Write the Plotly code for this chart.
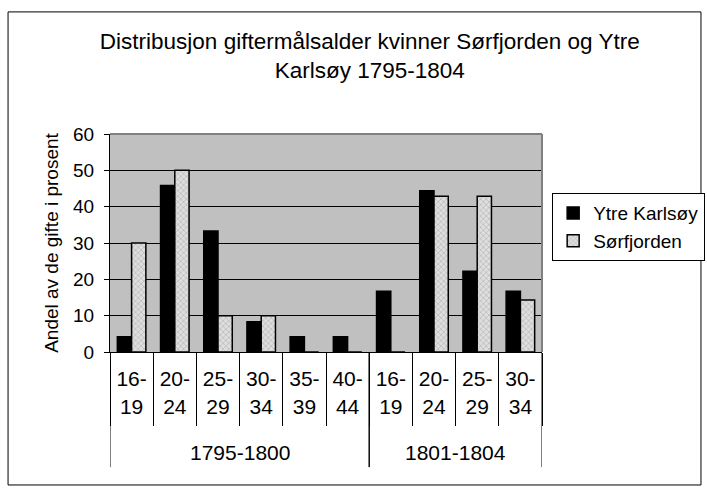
import plotly.graph_objects as go

# periods and age groups (two-level x axis)
periods = ["1795-1800"] * 6 + ["1801-1804"] * 4
ages = ["16-<br>19", "20-<br>24", "25-<br>29", "30-<br>34", "35-<br>39", "40-<br>44",
        "16-<br>19", "20-<br>24", "25-<br>29", "30-<br>34"]

# share of married women, percent
ytre_karlsoy = [4.2, 45.8, 33.3, 8.3, 4.2, 4.2, 16.7, 44.4, 22.2, 16.7]
sorfjorden = [30, 50, 10, 10, 0, 0, 0, 42.9, 42.9, 14.3]

fnt = "Liberation Sans, Arial, sans-serif"
pos = list(range(len(ages)))

fig = go.Figure()
fig.add_trace(go.Bar(
    x=pos, y=ytre_karlsoy, name="Ytre Karlsøy",
    marker=dict(color="black", line=dict(color="black", width=1.5)),
))
fig.add_trace(go.Bar(
    x=pos, y=sorfjorden, name="Sørfjorden",
    marker=dict(color="#d0d0d0", line=dict(color="black", width=1.5),
                pattern=dict(shape="x", size=4, solidity=0.3,
                             fgcolor="#8a8a8a", bgcolor="#dedede")),
))

fig.update_layout(
    width=707, height=489,
    margin=dict(l=110, r=165, t=134, b=137, autoexpand=False),
    paper_bgcolor="white", plot_bgcolor="#c0c0c0",
    font=dict(family=fnt, size=20, color="black"),
    title=dict(text="Distribusjon giftermålsalder kvinner Sørfjorden og Ytre<br>Karlsøy 1795-1804",
               xref="container", x=0.523, xanchor="center", y=0.9, yanchor="top",
               font=dict(size=22.5)),
    barmode="group", bargap=0.34, bargroupgap=0,
    showlegend=True,
    legend=dict(xref="container", yref="container", x=0.781, y=0.605,
                xanchor="left", yanchor="top",
                bordercolor="black", borderwidth=1, bgcolor="white",
                font=dict(size=19), itemwidth=30),
)
fig.update_yaxes(
    range=[0, 60], dtick=10, showgrid=True, gridcolor="black", gridwidth=1,
    ticks="outside", ticklen=5, tickcolor="black", ticklabelstandoff=6,
    tickfont=dict(size=19), automargin=False,
    showline=True, linecolor="black", linewidth=1, zeroline=False,
    title=dict(text="Andel av de gifte i prosent", standoff=9, font=dict(size=19)),
)
bounds = [p - 0.5 for p in pos] + [pos[-1] + 0.5]
fig.update_xaxes(
    range=[-0.5, len(ages) - 0.5], tickvals=pos, ticktext=ages, ticks="",
    tickfont=dict(size=21), ticklabelstandoff=8, automargin=False,
    minor=dict(tickvals=bounds, ticks="outside", ticklen=73, tickcolor="black",
               tickwidth=1, showgrid=False),
    showline=True, linecolor="black", linewidth=1, showgrid=False, zeroline=False,
)

# outer group labels and long dividers
groups = []
for i, p in enumerate(periods):
    if not groups or groups[-1][0] != p:
        groups.append([p, i, i])
    else:
        groups[-1][2] = i
for name, a, b in groups:
    fig.add_annotation(x=(a + b) / 2, y=-0.46, xref="x", yref="paper", text=name,
                       showarrow=False, font=dict(size=21), yanchor="middle")
    for edge in (a - 0.5, b + 0.5):
        fig.add_shape(type="line", xref="x", yref="paper", x0=edge, x1=edge,
                      y0=-0.528, y1=0, line=dict(color="black", width=1))

# grey plot-area border on top and right
fig.add_shape(type="line", xref="paper", yref="paper", x0=0, x1=1, y0=1, y1=1,
              line=dict(color="#808080", width=2))
fig.add_shape(type="line", xref="paper", yref="paper", x0=1, x1=1, y0=0, y1=1,
              line=dict(color="#808080", width=2))
# chart frame
fig.add_shape(type="rect", xref="paper", yref="paper",
              x0=-0.236, x1=1.368, y0=-0.61, y1=1.56,
              line=dict(color="black", width=1))

fig.write_html("out.html", config={"displayModeBar": False},
               post_script="document.body.style.margin='0';")
